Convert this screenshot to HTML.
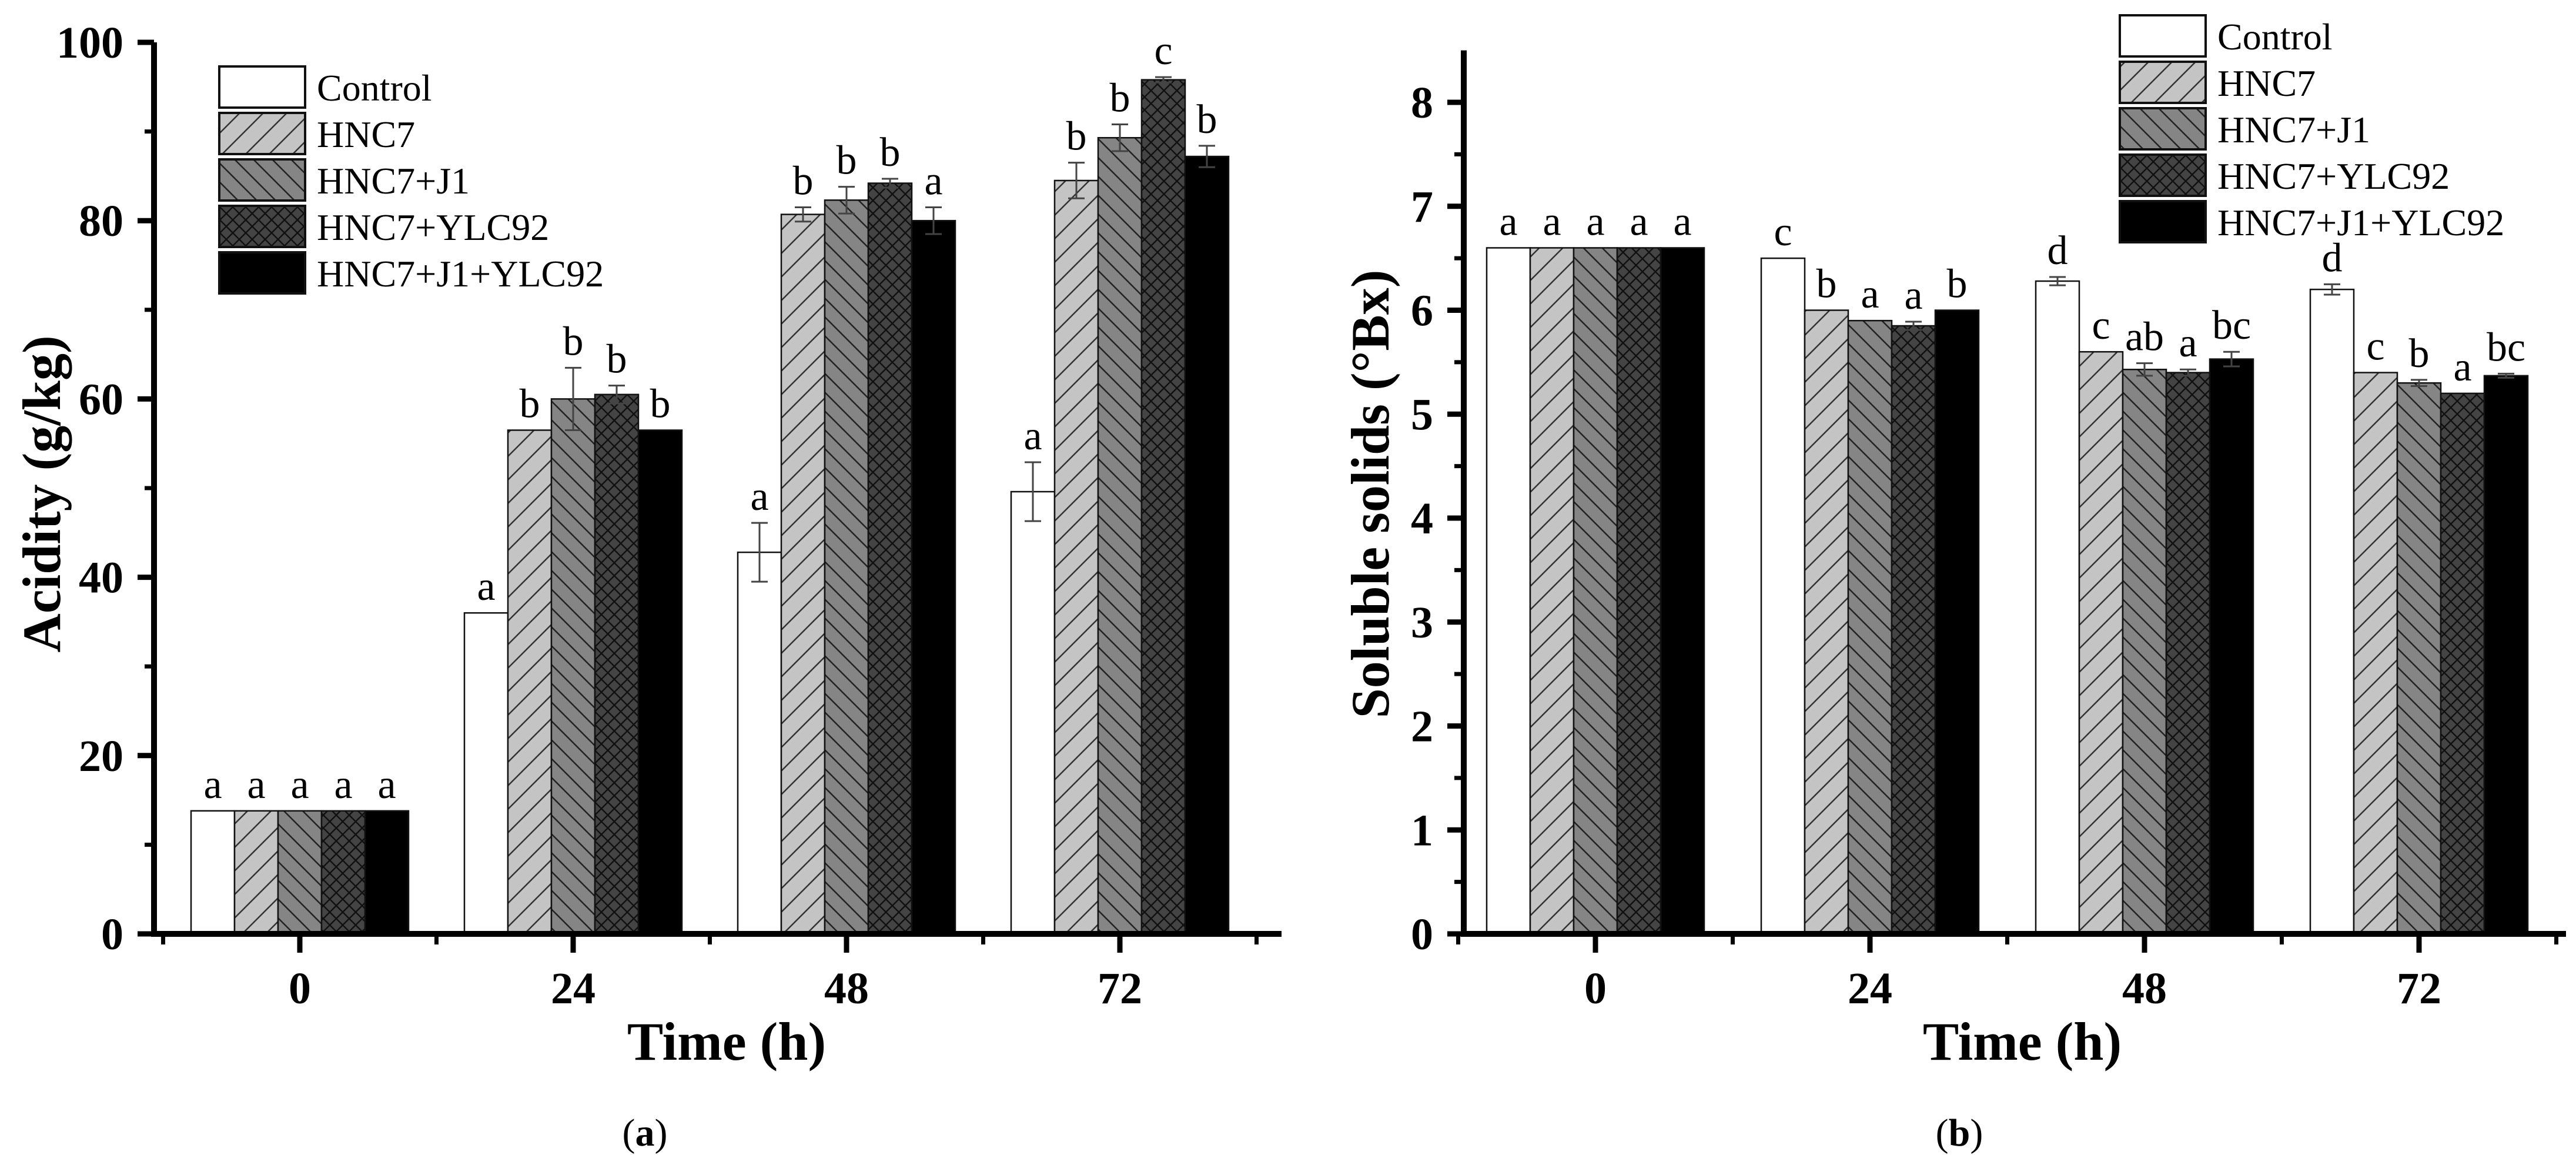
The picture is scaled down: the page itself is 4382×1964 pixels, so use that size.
<!DOCTYPE html>
<html><head><meta charset="utf-8"><style>
html,body{margin:0;padding:0;background:#fff;}
svg{display:block;}
text{font-family:"Liberation Serif",serif;fill:#000;}
.tick{font-weight:bold;font-size:76px;}
.ttl{font-weight:bold;font-size:92px;}
.let{font-size:70px;}
.leg{font-size:64px;}
</style></head><body>
<svg id="fig" width="4382" height="1964" viewBox="0 0 4382 1964" xmlns="http://www.w3.org/2000/svg">
<defs>
<pattern id="p1" patternUnits="userSpaceOnUse" width="40" height="40">
<rect width="40" height="40" fill="#c4c4c4"/><path d="M-10,50 L50,-10 M-30,30 L30,-30 M10,70 L70,10" stroke="#333" stroke-width="2.5"/></pattern>
<pattern id="p2" patternUnits="userSpaceOnUse" width="32" height="32">
<rect width="32" height="32" fill="#858585"/><path d="M-8,-8 L40,40 M-24,8 L24,56 M8,-24 L56,24" stroke="#222" stroke-width="2.5"/></pattern>
<pattern id="p3" patternUnits="userSpaceOnUse" width="22" height="22">
<rect width="22" height="22" fill="#444"/><path d="M0,0 L22,22 M22,0 L0,22" stroke="#111" stroke-width="2.5"/></pattern>
</defs>
<g id="chartA"></g>
<g id="chartB"></g>
</svg>
<script>
const series = ["Control","HNC7","HNC7+J1","HNC7+YLC92","HNC7+J1+YLC92"];
const fills = ["#ffffff","url(#p1)","url(#p2)","url(#p3)","#000000"];
const categories = ["0","24","48","72"];
// Acidity (g/kg) values
const acidControl = [13.8, 36.0, 42.8, 49.6];
const acidHNC7 = [13.8, 56.5, 80.7, 84.5];
const acidJ1 = [13.8, 60.0, 82.3, 89.3];
const acidYLC = [13.8, 60.5, 84.2, 95.8];
const acidAll = [13.8, 56.5, 80.0, 87.2];
const acidErrControl = [0, 0, 3.3, 3.3];
const acidErrHNC7 = [0, 0, 0.8, 2.0];
const acidErrJ1 = [0, 3.5, 1.5, 1.5];
const acidErrYLC = [0, 1.0, 0.5, 0.3];
const acidErrAll = [0, 0, 1.5, 1.2];
const acidLetters = [["a","a","a","a","a"],["a","b","b","b","b"],["a","b","b","b","a"],["a","b","b","c","b"]];
const acidTicks = [0,20,40,60,80,100];
// Soluble solids (°Bx)
const ssControl = [6.6, 6.5, 6.28, 6.2];
const ssHNC7 = [6.6, 6.0, 5.6, 5.4];
const ssJ1 = [6.6, 5.9, 5.43, 5.3];
const ssYLC = [6.6, 5.85, 5.4, 5.2];
const ssAll = [6.6, 6.0, 5.53, 5.37];
const ssErrControl = [0, 0, 0.04, 0.05];
const ssErrHNC7 = [0, 0, 0, 0];
const ssErrJ1 = [0, 0, 0.06, 0.03];
const ssErrYLC = [0, 0.04, 0.03, 0];
const ssErrAll = [0, 0, 0.07, 0.02];
const ssLetters = [["a","a","a","a","a"],["c","b","a","a","b"],["d","c","ab","a","bc"],["d","c","b","a","bc"]];
const ssTicks = [0,1,2,3,4,5,6,7,8];

const NS="http://www.w3.org/2000/svg";
function mk(parent,tag,attrs,txt){const e=document.createElementNS(NS,tag);for(const k in attrs)e.setAttribute(k,attrs[k]);if(txt!==undefined)e.textContent=txt;parent.appendChild(e);return e;}

function drawChart(g,cfg){
  const {x0,x1,y0,yTop,vmax,axisMax,c0,cStep,vals,errs,letters,ticks,minor,title,titleX,titleY,xTitleX,legX,legY,sub,subX}=cfg;
  const ys=v=>y0-(v/vmax)*(y0-yTop);
  const xs=i=>c0+i*cStep;
  const bw=74;
  for(let c=0;c<categories.length;c++){
    for(let s=0;s<series.length;s++){
      const v=vals[s][c], e=errs[s][c];
      const bx=xs(c)-2.5*bw+s*bw;
      const r=mk(g,'rect',{x:bx,y:ys(v),width:bw,height:y0-ys(v),fill:fills[s],stroke:'#111','stroke-width':2.5});
      
      
      if(e>0){
        const cx=bx+bw/2;
        const eb=mk(g,'path',{d:`M${cx},${ys(v+e)} L${cx},${ys(v-e)} M${cx-14},${ys(v+e)} L${cx+14},${ys(v+e)} M${cx-14},${ys(v-e)} L${cx+14},${ys(v-e)}`,stroke:'#444','stroke-width':3,fill:'none'});
        
        
      }
      const t=mk(g,'text',{x:bx+bw/2,y:ys(v+e)-22,'text-anchor':'middle',class:'let'},letters[c][s]);
      
      
    }
  }
  const ax=mk(g,'path',{d:`M${x0},${ys(axisMax)} L${x0},${y0+5} M${x0-5},${y0} L${x1},${y0}`,stroke:'#000','stroke-width':10,fill:'none'});
  
  
  ticks.forEach(v=>{
    const p=mk(g,'line',{x1:x0-28,x2:x0,y1:ys(v),y2:ys(v),stroke:'#000','stroke-width':9});
    
    
    const t=mk(g,'text',{x:x0-52,y:ys(v)+26,'text-anchor':'end',class:'tick'},String(v));
    
    
  });
  minor.forEach(v=>{
    const p=mk(g,'line',{x1:x0-16,x2:x0,y1:ys(v),y2:ys(v),stroke:'#000','stroke-width':7});
    
    
  });
  for(let c=0;c<categories.length;c++){
    const p=mk(g,'line',{x1:xs(c),x2:xs(c),y1:y0,y2:y0+32,stroke:'#000','stroke-width':9});
    
    
    const m=mk(g,'line',{x1:xs(c)+cStep/2,x2:xs(c)+cStep/2,y1:y0,y2:y0+18,stroke:'#000','stroke-width':7});
    
    
    if(c===0){const m2=mk(g,'line',{x1:xs(0)-cStep/2,x2:xs(0)-cStep/2,y1:y0,y2:y0+18,stroke:'#000','stroke-width':7});
      
      }
    const t=mk(g,'text',{x:xs(c),y:1706,'text-anchor':'middle',class:'tick'},categories[c]);
    
    
  }
  const yt=mk(g,'text',{x:titleX,y:titleY,'text-anchor':'middle',class:'ttl',transform:`rotate(-90 ${titleX} ${titleY})`,dy:'30'},title);
  
  
  const xt=mk(g,'text',{x:xTitleX,y:1802,'text-anchor':'middle',class:'ttl'},'Time (h)');
  
  
  const st=mk(g,'text',{x:subX,y:1948,'text-anchor':'middle',style:'font-size:66px'});
  
  
  st.innerHTML='(<tspan font-weight="bold">'+sub+'</tspan>)';
  series.forEach((s,i)=>{
    const r=mk(g,'rect',{x:legX,y:legY+i*79,width:146,height:70,fill:fills[i],stroke:'#111','stroke-width':4});
    
    
    const t=mk(g,'text',{x:legX+166,y:legY+i*79+58,class:'leg'},s);
    
    
  });
}
drawChart(document.getElementById('chartA'),{
  x0:262,x1:2180,y0:1588,yTop:72,vmax:100,axisMax:100,c0:510,cStep:465,
  vals:[acidControl,acidHNC7,acidJ1,acidYLC,acidAll],
  errs:[acidErrControl,acidErrHNC7,acidErrJ1,acidErrYLC,acidErrAll],
  letters:acidLetters,ticks:acidTicks,minor:[10,30,50,70,90],
  title:'Acidity (g/kg)',titleX:72,titleY:840,xTitleX:1236,legX:373,legY:113,sub:'a',subX:1097});
drawChart(document.getElementById('chartB'),{
  x0:2490,x1:4365,y0:1588,yTop:174,vmax:8,axisMax:8.5,c0:2714,cStep:467,
  vals:[ssControl,ssHNC7,ssJ1,ssYLC,ssAll],
  errs:[ssErrControl,ssErrHNC7,ssErrJ1,ssErrYLC,ssErrAll],
  letters:ssLetters,ticks:ssTicks,minor:[0.5,1.5,2.5,3.5,4.5,5.5,6.5,7.5],
  title:'Soluble solids (°Bx)',titleX:2332,titleY:840,xTitleX:3440,legX:3606,legY:26,sub:'b',subX:3333});
</script>
</body></html>
